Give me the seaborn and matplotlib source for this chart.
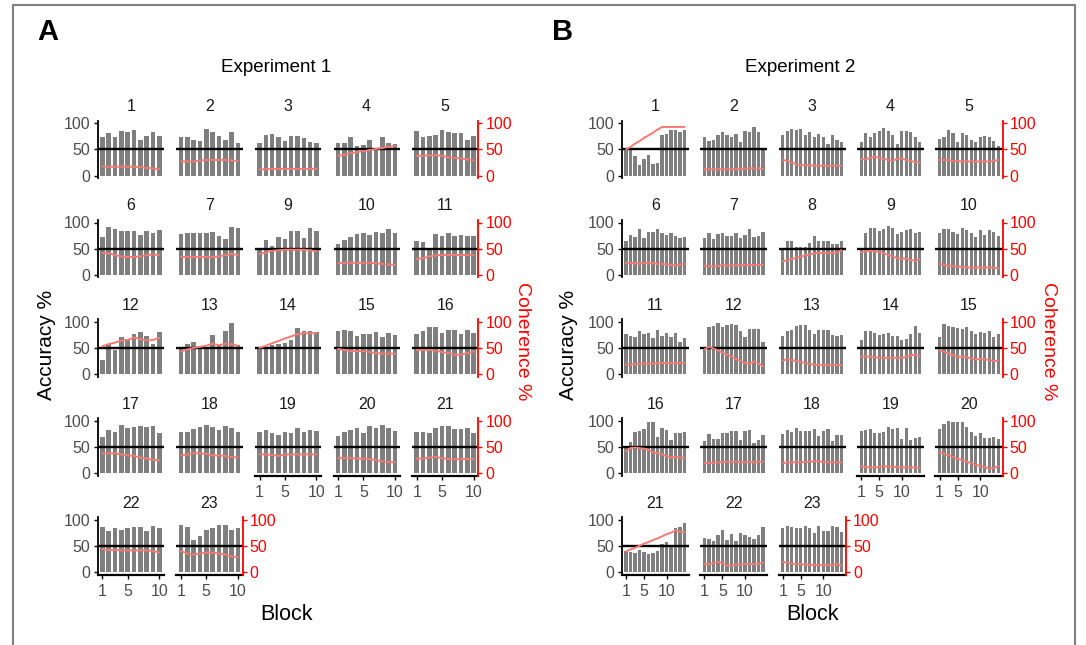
import matplotlib
matplotlib.use("Agg")
import matplotlib.pyplot as plt
import seaborn as sns
from matplotlib.lines import Line2D

# ---------------------------------------------------------------- data
BLOCKS_E1 = list(range(1, 11))
BLOCKS_E2 = list(range(1, 15))
ACC_TICKS = [0, 50, 100]
BLOCK_TICKS = [1, 5, 10]

# Experiment 1: accuracy (%) and coherence (%) per block, one pair per subject
E1_ACC_01 = [73, 82, 73, 86, 84, 87, 68, 76, 83, 76]
E1_COH_01 = [18, 17, 17, 17, 17, 17, 16, 15, 14, 12]
E1_ACC_02 = [74, 73, 68, 67, 89, 84, 76, 68, 84, 62]
E1_COH_02 = [27, 27, 27, 29, 30, 30, 30, 30, 29, 28]
E1_ACC_03 = [62, 78, 80, 74, 66, 76, 76, 72, 64, 63]
E1_COH_03 = [12, 12, 13, 13, 13, 13, 13, 13, 13, 13]
E1_ACC_04 = [62, 62, 74, 57, 58, 68, 52, 73, 62, 60]
E1_COH_04 = [38, 40, 43, 45, 47, 49, 51, 53, 55, 57]
E1_ACC_05 = [86, 74, 76, 78, 88, 83, 82, 82, 69, 76]
E1_COH_05 = [38, 38, 39, 39, 38, 35, 34, 33, 31, 29]
E1_ACC_06 = [72, 91, 88, 84, 84, 84, 76, 84, 80, 85]
E1_COH_06 = [42, 41, 38, 35, 34, 34, 35, 38, 39, 38]
E1_ACC_07 = [78, 80, 80, 80, 80, 82, 74, 68, 91, 89]
E1_COH_07 = [34, 34, 34, 34, 34, 34, 35, 38, 40, 38]
E1_ACC_09 = [50, 66, 56, 73, 69, 83, 83, 71, 90, 83]
E1_COH_09 = [40, 43, 46, 47, 48, 48, 48, 48, 47, 45]
E1_ACC_10 = [58, 66, 72, 78, 79, 76, 82, 80, 87, 80]
E1_COH_10 = [22, 23, 23, 23, 23, 23, 22, 21, 20, 19]
E1_ACC_11 = [65, 63, 50, 78, 74, 80, 74, 76, 75, 74]
E1_COH_11 = [30, 32, 35, 37, 38, 38, 38, 38, 38, 38]
E1_ACC_12 = [27, 58, 45, 70, 66, 77, 81, 73, 58, 80]
E1_COH_12 = [53, 57, 60, 64, 65, 70, 67, 64, 65, 69]
E1_ACC_13 = [50, 58, 61, 51, 51, 74, 55, 82, 98, 55]
E1_COH_13 = [43, 47, 50, 52, 54, 58, 55, 58, 57, 54]
E1_ACC_14 = [50, 50, 55, 58, 60, 65, 88, 82, 82, 81]
E1_COH_14 = [50, 54, 59, 63, 68, 72, 76, 78, 78, 78]
E1_ACC_15 = [83, 85, 82, 73, 76, 77, 81, 71, 78, 74]
E1_COH_15 = [48, 46, 44, 44, 44, 42, 40, 39, 39, 39]
E1_ACC_16 = [77, 83, 89, 89, 78, 85, 85, 77, 84, 79]
E1_COH_16 = [46, 46, 46, 45, 42, 40, 37, 37, 40, 43]
E1_ACC_17 = [69, 83, 79, 92, 87, 89, 90, 88, 90, 77]
E1_COH_17 = [38, 38, 38, 36, 34, 33, 30, 28, 26, 24]
E1_ACC_18 = [79, 78, 85, 88, 93, 89, 82, 90, 87, 79]
E1_COH_18 = [34, 36, 38, 38, 37, 34, 34, 33, 31, 30]
E1_ACC_19 = [79, 82, 76, 73, 78, 76, 86, 78, 82, 81]
E1_COH_19 = [36, 36, 35, 33, 36, 36, 36, 36, 36, 36]
E1_ACC_20 = [71, 79, 82, 86, 76, 90, 87, 92, 86, 80]
E1_COH_20 = [29, 29, 29, 28, 28, 27, 25, 23, 21, 21]
E1_ACC_21 = [79, 79, 76, 86, 90, 90, 85, 85, 86, 77]
E1_COH_21 = [28, 28, 30, 31, 29, 27, 27, 27, 27, 27]
E1_ACC_22 = [87, 79, 84, 82, 84, 87, 86, 80, 88, 84]
E1_COH_22 = [45, 43, 43, 42, 42, 42, 42, 42, 41, 38]
E1_ACC_23 = [91, 87, 62, 70, 82, 85, 91, 91, 82, 84]
E1_COH_23 = [41, 36, 34, 36, 38, 38, 36, 34, 31, 29]

# Experiment 2
E2_ACC_01 = [50, 50, 37, 20, 31, 40, 22, 25, 78, 79, 88, 87, 84, 87]
E2_COH_01 = [50, 55, 61, 66, 72, 77, 82, 88, 93, 93, 93, 93, 93, 93]
E2_ACC_02 = [73, 67, 69, 77, 84, 77, 74, 79, 64, 85, 84, 93, 84, 50]
E2_COH_02 = [12, 12, 12, 12, 12, 12, 12, 13, 13, 13, 14, 14, 14, 13]
E2_ACC_03 = [78, 86, 90, 88, 90, 77, 83, 74, 79, 73, 61, 78, 68, 65]
E2_COH_03 = [30, 28, 25, 22, 20, 20, 20, 19, 19, 19, 19, 19, 19, 19]
E2_ACC_04 = [65, 82, 73, 82, 86, 91, 85, 77, 60, 85, 86, 84, 74, 65]
E2_COH_04 = [32, 31, 34, 36, 34, 32, 30, 29, 32, 33, 30, 28, 26, 25]
E2_ACC_05 = [70, 74, 88, 82, 65, 82, 77, 68, 65, 74, 75, 74, 67, 56]
E2_COH_05 = [30, 30, 30, 28, 28, 27, 27, 27, 27, 27, 27, 27, 28, 30]
E2_ACC_06 = [64, 77, 72, 88, 70, 81, 81, 88, 80, 76, 80, 75, 70, 73]
E2_COH_06 = [23, 23, 22, 21, 22, 23, 22, 21, 21, 20, 19, 18, 20, 21]
E2_ACC_07 = [71, 80, 68, 78, 79, 75, 75, 79, 70, 77, 88, 73, 74, 82]
E2_COH_07 = [17, 17, 16, 17, 18, 18, 18, 18, 18, 19, 19, 19, 19, 19]
E2_ACC_08 = [50, 64, 65, 53, 54, 53, 60, 74, 65, 65, 65, 58, 58, 65]
E2_COH_08 = [26, 28, 30, 33, 35, 37, 39, 41, 42, 42, 42, 42, 43, 47]
E2_ACC_09 = [50, 80, 89, 89, 83, 87, 94, 90, 78, 81, 85, 87, 79, 82]
E2_COH_09 = [43, 45, 46, 45, 44, 41, 38, 35, 32, 31, 31, 28, 27, 30]
E2_ACC_10 = [79, 87, 87, 81, 78, 89, 86, 80, 73, 86, 77, 85, 82, 74]
E2_COH_10 = [21, 19, 17, 17, 16, 15, 14, 14, 14, 14, 14, 14, 14, 12]
E2_ACC_11 = [77, 72, 70, 83, 76, 79, 68, 84, 72, 79, 70, 79, 62, 69]
E2_COH_11 = [18, 18, 19, 20, 20, 20, 20, 21, 21, 21, 21, 21, 21, 21]
E2_ACC_12 = [50, 90, 92, 97, 90, 93, 96, 94, 83, 70, 86, 86, 86, 61]
E2_COH_12 = [47, 52, 49, 45, 41, 37, 33, 29, 25, 21, 20, 24, 20, 15]
E2_ACC_13 = [73, 82, 85, 91, 93, 94, 85, 76, 84, 84, 84, 74, 72, 74]
E2_COH_13 = [26, 28, 27, 25, 23, 21, 19, 18, 17, 17, 17, 17, 17, 17]
E2_ACC_14 = [65, 82, 82, 79, 74, 77, 78, 73, 72, 65, 66, 77, 92, 78]
E2_COH_14 = [33, 34, 33, 32, 31, 31, 31, 31, 31, 31, 33, 36, 37, 34]
E2_ACC_15 = [70, 96, 91, 90, 88, 86, 89, 83, 76, 80, 78, 83, 71, 77]
E2_COH_15 = [45, 43, 39, 36, 33, 33, 32, 30, 28, 28, 28, 27, 25, 25]
E2_ACC_16 = [50, 59, 79, 80, 85, 97, 97, 70, 86, 83, 64, 77, 77, 78]
E2_COH_16 = [42, 48, 49, 48, 47, 44, 40, 38, 36, 33, 30, 31, 30, 29]
E2_ACC_17 = [62, 75, 66, 66, 77, 76, 81, 81, 64, 81, 82, 58, 64, 74]
E2_COH_17 = [19, 20, 20, 21, 21, 22, 22, 22, 21, 21, 21, 21, 22, 22]
E2_ACC_18 = [75, 83, 79, 86, 81, 81, 81, 85, 72, 81, 84, 62, 73, 74]
E2_COH_18 = [19, 21, 21, 21, 21, 22, 22, 23, 23, 21, 21, 21, 21, 21]
E2_ACC_19 = [80, 82, 84, 76, 77, 78, 88, 84, 86, 66, 86, 63, 68, 70]
E2_COH_19 = [13, 12, 11, 11, 12, 13, 13, 12, 12, 11, 11, 11, 11, 11]
E2_ACC_20 = [84, 94, 99, 98, 97, 97, 89, 78, 71, 76, 67, 68, 70, 65]
E2_COH_20 = [40, 37, 34, 31, 28, 25, 22, 19, 16, 14, 12, 9, 10, 13]
E2_ACC_21 = [41, 40, 38, 42, 40, 36, 38, 41, 55, 58, 53, 85, 87, 94]
E2_COH_21 = [40, 44, 47, 51, 55, 58, 62, 65, 69, 73, 76, 80, 78, 77]
E2_ACC_22 = [65, 63, 61, 71, 82, 62, 74, 61, 75, 71, 67, 64, 71, 86]
E2_COH_22 = [16, 16, 18, 20, 18, 13, 13, 15, 15, 16, 16, 16, 17, 18]
E2_ACC_23 = [85, 88, 86, 84, 84, 89, 84, 75, 88, 79, 80, 88, 86, 77]
E2_COH_23 = [20, 19, 17, 16, 16, 15, 15, 14, 14, 14, 14, 14, 16, 13]

EXP1 = [
    (1, E1_ACC_01, E1_COH_01), (2, E1_ACC_02, E1_COH_02), (3, E1_ACC_03, E1_COH_03),
    (4, E1_ACC_04, E1_COH_04), (5, E1_ACC_05, E1_COH_05), (6, E1_ACC_06, E1_COH_06),
    (7, E1_ACC_07, E1_COH_07), (9, E1_ACC_09, E1_COH_09), (10, E1_ACC_10, E1_COH_10),
    (11, E1_ACC_11, E1_COH_11), (12, E1_ACC_12, E1_COH_12), (13, E1_ACC_13, E1_COH_13),
    (14, E1_ACC_14, E1_COH_14), (15, E1_ACC_15, E1_COH_15), (16, E1_ACC_16, E1_COH_16),
    (17, E1_ACC_17, E1_COH_17), (18, E1_ACC_18, E1_COH_18), (19, E1_ACC_19, E1_COH_19),
    (20, E1_ACC_20, E1_COH_20), (21, E1_ACC_21, E1_COH_21), (22, E1_ACC_22, E1_COH_22),
    (23, E1_ACC_23, E1_COH_23),
]
EXP2 = [
    (1, E2_ACC_01, E2_COH_01), (2, E2_ACC_02, E2_COH_02), (3, E2_ACC_03, E2_COH_03),
    (4, E2_ACC_04, E2_COH_04), (5, E2_ACC_05, E2_COH_05), (6, E2_ACC_06, E2_COH_06),
    (7, E2_ACC_07, E2_COH_07), (8, E2_ACC_08, E2_COH_08), (9, E2_ACC_09, E2_COH_09),
    (10, E2_ACC_10, E2_COH_10), (11, E2_ACC_11, E2_COH_11), (12, E2_ACC_12, E2_COH_12),
    (13, E2_ACC_13, E2_COH_13), (14, E2_ACC_14, E2_COH_14), (15, E2_ACC_15, E2_COH_15),
    (16, E2_ACC_16, E2_COH_16), (17, E2_ACC_17, E2_COH_17), (18, E2_ACC_18, E2_COH_18),
    (19, E2_ACC_19, E2_COH_19), (20, E2_ACC_20, E2_COH_20), (21, E2_ACC_21, E2_COH_21),
    (22, E2_ACC_22, E2_COH_22), (23, E2_ACC_23, E2_COH_23),
]

# ---------------------------------------------------------------- style
sns.set_style("white")
plt.rcParams["font.family"] = ["Liberation Sans", "DejaVu Sans"]

BAR_GREY = "#7f7f7f"
COH_LINE = "#f47a74"
AXIS_RED = "#ff0000"
TICK_GREY = "#4d4d4d"

W, H = 1086, 645
fig = plt.figure(figsize=(W / 100, H / 100), dpi=100)
fig.patch.set_facecolor("white")


def fig_xy(x, y):
    return x / W, 1 - y / H


def px_rect(x0, y0, w, h):
    return [x0 / W, 1 - (y0 + h) / H, w / W, h / H]


YLIM = (-5, 105)
PXU = 0.5235          # pixels per percentage point
ROW_Y100 = 123.3      # pixel row of the 100 % level in the first row
ROW_PITCH = 99.2
NCOL = 5


def draw_panel(left_px, width_px, row, blocks, acc, coh, xlim, number,
               show_left, show_right, show_bottom):
    y100 = ROW_Y100 + row * ROW_PITCH
    top = y100 - (YLIM[1] - 100) * PXU
    height = (YLIM[1] - YLIM[0]) * PXU
    ax = fig.add_axes(px_rect(left_px, top, width_px, height))
    ax.set_facecolor("none")
    sns.barplot(x=blocks, y=acc, native_scale=True, width=0.72,
                color=BAR_GREY, saturation=1, linewidth=0,
                errorbar=None, ax=ax)
    ax.axhline(50, color="black", lw=1.7, zorder=4)
    ax.set_xlim(xlim)
    ax.set_ylim(YLIM)
    ax.set_xlabel("")
    ax.set_ylabel("")
    ax.grid(False)
    for s in ax.spines.values():
        s.set_visible(False)

    if show_left:
        ax.spines["left"].set_visible(True)
        ax.spines["left"].set_color("black")
        ax.spines["left"].set_linewidth(1.3)
        ax.set_yticks(ACC_TICKS)
        ax.tick_params(axis="y", left=True, length=2.8, width=1.0,
                       color="black", labelcolor=TICK_GREY,
                       labelsize=11.5, pad=2.5)
    else:
        ax.set_yticks([])

    if show_bottom:
        ax.spines["bottom"].set_visible(True)
        ax.spines["bottom"].set_color("black")
        ax.spines["bottom"].set_linewidth(1.6)
        ax.set_xticks(BLOCK_TICKS)
        ax.set_xticklabels([str(t) for t in BLOCK_TICKS])
        ax.tick_params(axis="x", bottom=True, length=2.8, width=1.0,
                       color="black", labelcolor=TICK_GREY,
                       labelsize=11.5, pad=3.5)
    else:
        ax.set_xticks([])

    ax2 = ax.twinx()
    sns.lineplot(x=blocks, y=coh, ax=ax2, color=COH_LINE, lw=1.4)
    ax2.set_ylim(YLIM)
    ax2.set_ylabel("")
    ax2.grid(False)
    for s in ax2.spines.values():
        s.set_visible(False)
    if show_right:
        ax2.spines["right"].set_visible(True)
        ax2.spines["right"].set_color(AXIS_RED)
        ax2.spines["right"].set_linewidth(1.3)
        ax2.set_yticks(ACC_TICKS)
        ax2.tick_params(axis="y", right=True, length=2.8, width=1.0,
                        color=AXIS_RED, labelcolor=AXIS_RED,
                        labelsize=11.5, pad=2.5)
    else:
        ax2.set_yticks([])

    cx, cy = fig_xy(left_px + width_px / 2, y100 - 16.6)
    fig.text(cx, cy, str(number), ha="center", va="center",
             fontsize=11.5, color="#1a1a1a")


def draw_experiment(panels, blocks, x_first, pitch, width_px, xlim):
    n = len(panels)
    for i, (num, acc, coh) in enumerate(panels):
        row, col = divmod(i, NCOL)
        draw_panel(x_first + col * pitch, width_px, row, blocks, acc, coh,
                   xlim, num,
                   show_left=(col == 0),
                   show_right=(col == NCOL - 1 or i == n - 1),
                   show_bottom=(i + NCOL >= n))


draw_experiment(EXP1, BLOCKS_E1, 97.7, 78.6, 66.2, (0.27, 10.73))
draw_experiment(EXP2, BLOCKS_E2, 621.7, 78.4, 67.2, (0.05, 14.95))

# ---------------------------------------------------------------- labels
for x, letter in [(48, "A"), (563, "B")]:
    fig.text(*fig_xy(x, 32), letter, ha="center", va="center",
             fontsize=21, fontweight="bold", color="black")

for x, title in [(276, "Experiment 1"), (800, "Experiment 2")]:
    fig.text(*fig_xy(x, 68), title, ha="center", va="center",
             fontsize=13.5, color="black")

for x in (46, 568):
    fig.text(*fig_xy(x, 345), "Accuracy %", rotation=90, ha="center",
             va="center", fontsize=15, color="black")

for x in (522, 1048):
    fig.text(*fig_xy(x, 341), "Coherence %", rotation=270, ha="center",
             va="center", fontsize=14, color=AXIS_RED)

for x in (286, 812):
    fig.text(*fig_xy(x, 614), "Block", ha="center", va="center",
             fontsize=15.5, color="black")

# thin grey frame around the figure
frame = dict(transform=fig.transFigure, color="#808080", lw=1.5)
fig.add_artist(Line2D([13 / W, 1075 / W], [1 - 5 / H, 1 - 5 / H], **frame))
fig.add_artist(Line2D([13 / W, 13 / W], [0, 1 - 5 / H], **frame))
fig.add_artist(Line2D([1075 / W, 1075 / W], [0, 1 - 5 / H], **frame))

fig.savefig("out.png", dpi=100)
